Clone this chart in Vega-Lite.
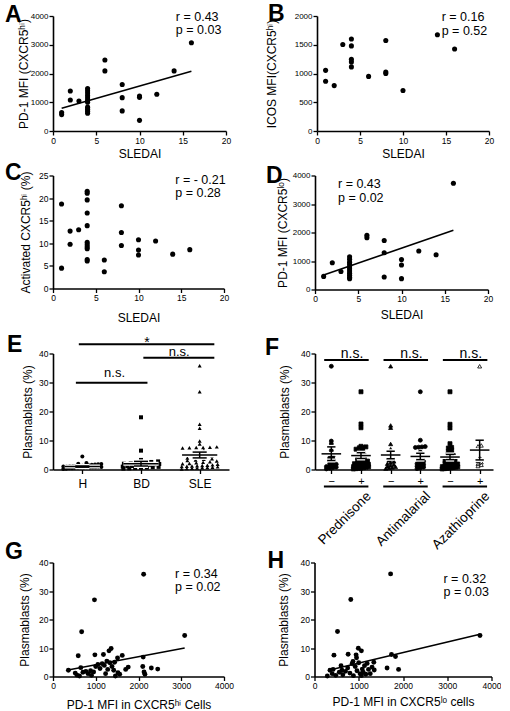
{
  "$schema": "https://vega.github.io/schema/vega-lite/v6.json",
  "background": "white",
  "padding": {"left": 5, "top": 3, "right": 0, "bottom": 0},
  "config": {
    "view": {"stroke": null},
    "font": "Liberation Sans",
    "axis": {"grid": false, "domainColor": "black", "domainWidth": 1.6, "tickColor": "black", "tickWidth": 1.3, "tickSize": 4, "labelColor": "black", "labelFont": "Liberation Sans", "labelFontSize": 8.5, "labelPadding": 1, "labelFlush": false, "labelOverlap": false, "labelBound": false, "titleColor": "black", "titleFont": "Liberation Sans", "titleFontSize": 12, "titleFontWeight": "normal"},
    "title": {"font": "Liberation Sans", "fontSize": 23, "fontWeight": "bold", "color": "black", "anchor": "start", "frame": "group", "baseline": "alphabetic"},
    "text": {"font": "Liberation Sans", "color": "black"}
  },
  "datasets": {
    "a_pts": [{"sledai":1,"mfi":640},{"sledai":1,"mfi":570},{"sledai":2,"mfi":1390},{"sledai":2,"mfi":1080},{"sledai":3,"mfi":1040},{"sledai":4,"mfi":1480},{"sledai":4,"mfi":1400},{"sledai":4,"mfi":1320},{"sledai":4,"mfi":1230},{"sledai":4,"mfi":1150},{"sledai":4,"mfi":1070},{"sledai":4,"mfi":1000},{"sledai":4,"mfi":830},{"sledai":4,"mfi":760},{"sledai":4,"mfi":690},{"sledai":4,"mfi":620},{"sledai":6,"mfi":2470},{"sledai":6,"mfi":2090},{"sledai":8,"mfi":1620},{"sledai":8,"mfi":1160},{"sledai":8,"mfi":700},{"sledai":10,"mfi":1220},{"sledai":10,"mfi":1170},{"sledai":10,"mfi":370},{"sledai":12,"mfi":1280},{"sledai":14,"mfi":2090},{"sledai":16,"mfi":3070}],
    "a_fit": [{"sledai":1,"mfi":790},{"sledai":16,"mfi":2080}],
    "a_stat": [{"t":"r = 0.43\np = 0.03"}],
    "b_pts": [{"sledai":1,"icos":1055},{"sledai":1,"icos":865},{"sledai":2,"icos":790},{"sledai":3,"icos":1505},{"sledai":4,"icos":1600},{"sledai":4,"icos":1480},{"sledai":4,"icos":1245},{"sledai":4,"icos":1200},{"sledai":4,"icos":1115},{"sledai":6,"icos":950},{"sledai":8,"icos":1575},{"sledai":8,"icos":1025},{"sledai":8,"icos":1000},{"sledai":10,"icos":705},{"sledai":14,"icos":1675},{"sledai":16,"icos":1425}],
    "b_stat": [{"t":"r = 0.16\np = 0.52"}],
    "c_pts": [{"sledai":1,"act":18.7},{"sledai":1,"act":4.5},{"sledai":2,"act":12.7},{"sledai":2,"act":9.8},{"sledai":3,"act":13.0},{"sledai":4,"act":21.5},{"sledai":4,"act":21.1},{"sledai":4,"act":19.6},{"sledai":4,"act":16.7},{"sledai":4,"act":13.9},{"sledai":4,"act":10.2},{"sledai":4,"act":9.7},{"sledai":4,"act":9.2},{"sledai":4,"act":8.8},{"sledai":4,"act":6.4},{"sledai":4,"act":6.1},{"sledai":6,"act":6.3},{"sledai":6,"act":3.7},{"sledai":8,"act":18.3},{"sledai":8,"act":12.4},{"sledai":8,"act":9.5},{"sledai":10,"act":10.8},{"sledai":10,"act":8.5},{"sledai":10,"act":7.4},{"sledai":12,"act":10.5},{"sledai":14,"act":7.6},{"sledai":16,"act":8.6}],
    "c_stat": [{"t":"r = - 0.21\np = 0.28"}],
    "d_pts": [{"sledai":1,"mfi":460},{"sledai":2,"mfi":940},{"sledai":3,"mfi":630},{"sledai":4,"mfi":1150},{"sledai":4,"mfi":1060},{"sledai":4,"mfi":960},{"sledai":4,"mfi":880},{"sledai":4,"mfi":800},{"sledai":4,"mfi":730},{"sledai":4,"mfi":650},{"sledai":4,"mfi":570},{"sledai":4,"mfi":500},{"sledai":4,"mfi":430},{"sledai":4,"mfi":380},{"sledai":6,"mfi":1900},{"sledai":6,"mfi":1820},{"sledai":8,"mfi":1720},{"sledai":8,"mfi":1290},{"sledai":8,"mfi":440},{"sledai":10,"mfi":1050},{"sledai":10,"mfi":860},{"sledai":10,"mfi":380},{"sledai":12,"mfi":1350},{"sledai":14,"mfi":1220},{"sledai":16,"mfi":3730}],
    "d_fit": [{"sledai":1,"mfi":506},{"sledai":16,"mfi":2080}],
    "d_stat": [{"t":"r = 0.43\np = 0.02"}],
    "e_pts": [
      {"g":"H","v":0.2},{"g":"H","v":0.3},{"g":"H","v":0.4},{"g":"H","v":0.4},{"g":"H","v":0.5},{"g":"H","v":0.5},{"g":"H","v":0.6},{"g":"H","v":0.6},{"g":"H","v":0.7},{"g":"H","v":0.7},{"g":"H","v":0.8},{"g":"H","v":0.8},{"g":"H","v":0.9},{"g":"H","v":0.9},{"g":"H","v":1.0},{"g":"H","v":1.0},{"g":"H","v":1.1},{"g":"H","v":1.1},{"g":"H","v":1.2},{"g":"H","v":1.2},{"g":"H","v":1.3},{"g":"H","v":1.4},{"g":"H","v":1.5},{"g":"H","v":1.6},{"g":"H","v":1.7},{"g":"H","v":1.8},{"g":"H","v":1.9},{"g":"H","v":2.0},{"g":"H","v":2.2},{"g":"H","v":4.5},
      {"g":"BD","v":18.0},{"g":"BD","v":6.5},{"g":"BD","v":3.3},{"g":"BD","v":2.8},{"g":"BD","v":2.6},{"g":"BD","v":2.5},{"g":"BD","v":2.3},{"g":"BD","v":2.1},{"g":"BD","v":2.0},{"g":"BD","v":1.9},{"g":"BD","v":1.8},{"g":"BD","v":1.6},{"g":"BD","v":1.5},{"g":"BD","v":1.4},{"g":"BD","v":1.3},{"g":"BD","v":1.2},{"g":"BD","v":1.1},{"g":"BD","v":1.0},{"g":"BD","v":0.9},{"g":"BD","v":0.8},{"g":"BD","v":0.7},{"g":"BD","v":0.6},{"g":"BD","v":0.5},{"g":"BD","v":0.4},{"g":"BD","v":0.3},
      {"g":"SLE","v":35.8},{"g":"SLE","v":26.8},{"g":"SLE","v":15.6},{"g":"SLE","v":14.2},{"g":"SLE","v":9.8},{"g":"SLE","v":8.8},{"g":"SLE","v":7.8},{"g":"SLE","v":7.7},{"g":"SLE","v":7.6},{"g":"SLE","v":7.6},{"g":"SLE","v":7.5},{"g":"SLE","v":7.4},{"g":"SLE","v":6.6},{"g":"SLE","v":6.0},{"g":"SLE","v":5.5},{"g":"SLE","v":5.1},{"g":"SLE","v":4.8},{"g":"SLE","v":4.5},{"g":"SLE","v":4.2},{"g":"SLE","v":4.0},{"g":"SLE","v":3.7},{"g":"SLE","v":3.5},{"g":"SLE","v":3.3},{"g":"SLE","v":3.1},{"g":"SLE","v":2.9},{"g":"SLE","v":2.7},{"g":"SLE","v":2.5},{"g":"SLE","v":2.3},{"g":"SLE","v":2.1},{"g":"SLE","v":2.0},{"g":"SLE","v":1.8},{"g":"SLE","v":1.6},{"g":"SLE","v":1.5},{"g":"SLE","v":1.4},{"g":"SLE","v":1.3},{"g":"SLE","v":1.2},{"g":"SLE","v":1.1},{"g":"SLE","v":1.0},{"g":"SLE","v":0.9},{"g":"SLE","v":0.8},{"g":"SLE","v":0.7},{"g":"SLE","v":0.6},{"g":"SLE","v":0.5},{"g":"SLE","v":0.4},{"g":"SLE","v":0.3},{"g":"SLE","v":0.2}
    ],
    "e_sum": [{"g":"H","mean":1.0,"lo":0.8,"hi":1.2},{"g":"BD","mean":2.0,"lo":1.2,"hi":2.8},{"g":"SLE","mean":5.0,"lo":4.0,"hi":6.0}],
    "f_pts": [
      {"grp":"pred-","v":35.6},{"grp":"pred-","v":9.8},{"grp":"pred-","v":8.8},{"grp":"pred-","v":7.6},{"grp":"pred-","v":6.5},{"grp":"pred-","v":5.5},{"grp":"pred-","v":4.5},{"grp":"pred-","v":4.0},{"grp":"pred-","v":3.5},{"grp":"pred-","v":3.0},{"grp":"pred-","v":2.5},{"grp":"pred-","v":2.0},{"grp":"pred-","v":1.8},{"grp":"pred-","v":1.5},{"grp":"pred-","v":1.2},{"grp":"pred-","v":1.0},{"grp":"pred-","v":0.8},{"grp":"pred-","v":0.6},{"grp":"pred-","v":0.4},{"grp":"pred-","v":0.2},
      {"grp":"pred+","v":26.8},{"grp":"pred+","v":15.7},{"grp":"pred+","v":14.4},{"grp":"pred+","v":8.0},{"grp":"pred+","v":7.8},{"grp":"pred+","v":7.6},{"grp":"pred+","v":7.5},{"grp":"pred+","v":7.0},{"grp":"pred+","v":6.5},{"grp":"pred+","v":6.0},{"grp":"pred+","v":5.5},{"grp":"pred+","v":5.0},{"grp":"pred+","v":4.7},{"grp":"pred+","v":4.4},{"grp":"pred+","v":4.0},{"grp":"pred+","v":3.7},{"grp":"pred+","v":3.4},{"grp":"pred+","v":3.1},{"grp":"pred+","v":2.9},{"grp":"pred+","v":2.6},{"grp":"pred+","v":2.4},{"grp":"pred+","v":2.2},{"grp":"pred+","v":2.0},{"grp":"pred+","v":1.8},{"grp":"pred+","v":1.6},{"grp":"pred+","v":1.4},{"grp":"pred+","v":1.3},{"grp":"pred+","v":1.2},{"grp":"pred+","v":1.0},{"grp":"pred+","v":0.9},{"grp":"pred+","v":0.8},{"grp":"pred+","v":0.6},{"grp":"pred+","v":0.5},{"grp":"pred+","v":0.4},{"grp":"pred+","v":0.3},{"grp":"pred+","v":0.2},
      {"grp":"anti-","v":35.6},{"grp":"anti-","v":15.2},{"grp":"anti-","v":14.4},{"grp":"anti-","v":8.8},{"grp":"anti-","v":7.0},{"grp":"anti-","v":6.3},{"grp":"anti-","v":5.7},{"grp":"anti-","v":5.0},{"grp":"anti-","v":4.5},{"grp":"anti-","v":4.0},{"grp":"anti-","v":3.6},{"grp":"anti-","v":3.2},{"grp":"anti-","v":2.8},{"grp":"anti-","v":2.4},{"grp":"anti-","v":2.0},{"grp":"anti-","v":1.7},{"grp":"anti-","v":1.4},{"grp":"anti-","v":1.1},{"grp":"anti-","v":0.9},{"grp":"anti-","v":0.7},{"grp":"anti-","v":0.5},{"grp":"anti-","v":0.3},
      {"grp":"anti+","v":26.8},{"grp":"anti+","v":10.1},{"grp":"anti+","v":7.9},{"grp":"anti+","v":7.8},{"grp":"anti+","v":7.7},{"grp":"anti+","v":7.6},{"grp":"anti+","v":6.0},{"grp":"anti+","v":5.0},{"grp":"anti+","v":4.4},{"grp":"anti+","v":3.8},{"grp":"anti+","v":3.3},{"grp":"anti+","v":2.8},{"grp":"anti+","v":2.4},{"grp":"anti+","v":2.0},{"grp":"anti+","v":1.7},{"grp":"anti+","v":1.4},{"grp":"anti+","v":1.1},{"grp":"anti+","v":0.8},{"grp":"anti+","v":0.5},{"grp":"anti+","v":0.3},
      {"grp":"aza-","v":26.8},{"grp":"aza-","v":15.6},{"grp":"aza-","v":14.3},{"grp":"aza-","v":8.9},{"grp":"aza-","v":7.6},{"grp":"aza-","v":7.4},{"grp":"aza-","v":6.8},{"grp":"aza-","v":6.2},{"grp":"aza-","v":5.6},{"grp":"aza-","v":5.2},{"grp":"aza-","v":4.8},{"grp":"aza-","v":4.4},{"grp":"aza-","v":4.1},{"grp":"aza-","v":3.8},{"grp":"aza-","v":3.5},{"grp":"aza-","v":3.2},{"grp":"aza-","v":3.0},{"grp":"aza-","v":2.8},{"grp":"aza-","v":2.5},{"grp":"aza-","v":2.3},{"grp":"aza-","v":2.1},{"grp":"aza-","v":1.9},{"grp":"aza-","v":1.7},{"grp":"aza-","v":1.5},{"grp":"aza-","v":1.4},{"grp":"aza-","v":1.2},{"grp":"aza-","v":1.1},{"grp":"aza-","v":1.0},{"grp":"aza-","v":0.9},{"grp":"aza-","v":0.8},{"grp":"aza-","v":0.7},{"grp":"aza-","v":0.6},{"grp":"aza-","v":0.5},{"grp":"aza-","v":0.4},{"grp":"aza-","v":0.3},{"grp":"aza-","v":0.2},
      {"grp":"aza+","v":35.6},{"grp":"aza+","v":8.3},{"grp":"aza+","v":8.0},{"grp":"aza+","v":4.0},{"grp":"aza+","v":3.5},{"grp":"aza+","v":3.0},{"grp":"aza+","v":2.5},{"grp":"aza+","v":2.0},{"grp":"aza+","v":1.6},{"grp":"aza+","v":1.2}
    ],
    "f_sum": [{"grp":"pred-","mean":5.4,"lo":3.1,"hi":7.8},{"grp":"pred+","mean":4.8,"lo":3.8,"hi":5.8},{"grp":"anti-","mean":5.0,"lo":3.7,"hi":6.3},{"grp":"anti+","mean":4.5,"lo":3.4,"hi":5.6},{"grp":"aza-","mean":4.3,"lo":3.4,"hi":5.2},{"grp":"aza+","mean":6.7,"lo":3.3,"hi":10.1}],
    "f_drug": [{"drug":"Prednisone"},{"drug":"Antimalarial"},{"drug":"Azathioprine"}],
    "g_pts": [{"pd1":2120,"pb":35.9},{"pd1":970,"pb":26.9},{"pd1":670,"pb":15.7},{"pd1":3080,"pb":14.4},{"pd1":590,"pb":7.3},{"pd1":980,"pb":7.6},{"pd1":1180,"pb":7.7},{"pd1":1310,"pb":9.0},{"pd1":1360,"pb":9.8},{"pd1":1620,"pb":7.4},{"pd1":1510,"pb":6.5},{"pd1":2110,"pb":6.8},{"pd1":1440,"pb":5.0},{"pd1":1260,"pb":5.4},{"pd1":360,"pb":2.2},{"pd1":520,"pb":1.2},{"pd1":560,"pb":0.5},{"pd1":620,"pb":0.2},{"pd1":650,"pb":3.1},{"pd1":700,"pb":1.5},{"pd1":770,"pb":1.8},{"pd1":820,"pb":1.0},{"pd1":880,"pb":2.0},{"pd1":900,"pb":0.4},{"pd1":950,"pb":1.6},{"pd1":1000,"pb":3.5},{"pd1":1050,"pb":4.2},{"pd1":1100,"pb":2.8},{"pd1":1150,"pb":4.5},{"pd1":1200,"pb":3.9},{"pd1":1230,"pb":1.0},{"pd1":1280,"pb":2.5},{"pd1":1330,"pb":4.8},{"pd1":1380,"pb":3.5},{"pd1":1420,"pb":2.2},{"pd1":1460,"pb":0.2},{"pd1":1520,"pb":1.3},{"pd1":1560,"pb":0.8},{"pd1":1700,"pb":2.5},{"pd1":1760,"pb":3.3},{"pd1":2100,"pb":3.5},{"pd1":2130,"pb":1.6},{"pd1":2150,"pb":0.8},{"pd1":2300,"pb":3.0},{"pd1":2450,"pb":2.6}],
    "g_fit": [{"pd1":350,"pb":2.3},{"pd1":3080,"pb":10.0}],
    "g_stat": [{"t":"r = 0.34\np = 0.02"}],
    "h_pts": [{"pd1":1720,"pb":36.0},{"pd1":820,"pb":27.0},{"pd1":520,"pb":15.8},{"pd1":3740,"pb":14.4},{"pd1":440,"pb":7.5},{"pd1":760,"pb":7.8},{"pd1":940,"pb":7.6},{"pd1":990,"pb":9.9},{"pd1":1060,"pb":9.0},{"pd1":1740,"pb":7.7},{"pd1":1830,"pb":7.0},{"pd1":950,"pb":6.6},{"pd1":870,"pb":5.3},{"pd1":1190,"pb":4.6},{"pd1":290,"pb":0.2},{"pd1":350,"pb":2.2},{"pd1":400,"pb":1.0},{"pd1":420,"pb":2.5},{"pd1":480,"pb":0.4},{"pd1":560,"pb":1.5},{"pd1":600,"pb":3.8},{"pd1":620,"pb":2.2},{"pd1":640,"pb":0.6},{"pd1":700,"pb":1.8},{"pd1":750,"pb":3.0},{"pd1":800,"pb":1.2},{"pd1":850,"pb":4.5},{"pd1":880,"pb":0.3},{"pd1":920,"pb":3.5},{"pd1":960,"pb":2.0},{"pd1":1000,"pb":4.8},{"pd1":1030,"pb":1.0},{"pd1":1060,"pb":0.3},{"pd1":1080,"pb":2.6},{"pd1":1100,"pb":1.5},{"pd1":1130,"pb":3.8},{"pd1":1160,"pb":0.8},{"pd1":1220,"pb":2.5},{"pd1":1260,"pb":1.0},{"pd1":1300,"pb":3.3},{"pd1":1340,"pb":5.0},{"pd1":1350,"pb":2.3},{"pd1":1640,"pb":3.0},{"pd1":1900,"pb":2.5}],
    "h_fit": [{"pd1":320,"pb":2.2},{"pd1":3740,"pb":14.8}],
    "h_stat": [{"t":"r = 0.32\np = 0.03"}]
  },
  "spacing": 2.5,
  "vconcat": [
    {
      "spacing": 34,
      "hconcat": [
        {
          "width": 173, "height": 115,
          "title": {"text": "A", "dx": -48, "offset": -16},
          "encoding": {
            "x": {"field": "sledai", "type": "quantitative", "scale": {"domain": [0, 20], "nice": false}, "axis": {"title": "SLEDAI", "values": [0, 5, 10, 15, 20], "tickCount": 10, "format": "d", "labelOverlap": false, "titlePadding": 3.5}},
            "y": {"field": "mfi", "type": "quantitative", "scale": {"domain": [0, 4000], "nice": false}, "axis": {"title": "PD-1 MFI (CXCR5ʰⁱ)", "values": [0, 1000, 2000, 3000, 4000], "tickCount": 10, "format": "d", "labelOverlap": false, "labelFontSize": 8, "titlePadding": 0}}
          },
          "layer": [
            {"data": {"name": "a_pts"}, "mark": {"type": "circle", "size": 26, "color": "black", "opacity": 1}},
            {"data": {"name": "a_fit"}, "mark": {"type": "line", "color": "black", "strokeWidth": 1.6}},
            {"data": {"name": "a_stat"}, "transform": [{"calculate": "14.2", "as": "sledai"}, {"calculate": "3830", "as": "mfi"}],
             "mark": {"type": "text", "align": "left", "baseline": "alphabetic", "fontSize": 12.5, "lineBreak": "\n", "lineHeight": 13.5},
             "encoding": {"text": {"field": "t"}}}
          ]
        },
        {
          "width": 172, "height": 115,
          "title": {"text": "B", "dx": -49, "offset": -15},
          "encoding": {
            "x": {"field": "sledai", "type": "quantitative", "scale": {"domain": [0, 20], "nice": false}, "axis": {"title": "SLEDAI", "values": [0, 5, 10, 15, 20], "tickCount": 10, "format": "d", "labelOverlap": false, "titlePadding": 3.5}},
            "y": {"field": "icos", "type": "quantitative", "scale": {"domain": [0, 2000], "nice": false}, "axis": {"title": "ICOS MFI(CXCR5ʰⁱ)", "values": [0, 500, 1000, 1500, 2000], "tickCount": 10, "format": "d", "labelOverlap": false, "labelFontSize": 8, "titlePadding": 16}}
          },
          "layer": [
            {"data": {"name": "b_pts"}, "mark": {"type": "circle", "size": 26, "color": "black", "opacity": 1}},
            {"data": {"name": "b_stat"}, "transform": [{"calculate": "14.5", "as": "sledai"}, {"calculate": "1913", "as": "icos"}],
             "mark": {"type": "text", "align": "left", "baseline": "alphabetic", "fontSize": 12.5, "lineBreak": "\n", "lineHeight": 13.5},
             "encoding": {"text": {"field": "t"}}}
          ]
        }
      ]
    },
    {
      "spacing": 10,
      "vconcat": [
        {
          "spacing": 37,
          "hconcat": [
            {
              "width": 171, "height": 113,
              "title": {"text": "C", "dx": -48, "offset": -13.6},
              "encoding": {
                "x": {"field": "sledai", "type": "quantitative", "scale": {"domain": [0, 20], "nice": false}, "axis": {"title": "SLEDAI", "values": [0, 5, 10, 15, 20], "tickCount": 10, "format": "d", "labelOverlap": false, "titlePadding": 10.5}},
                "y": {"field": "act", "type": "quantitative", "scale": {"domain": [0, 25], "nice": false}, "axis": {"title": "Activated CXCR5ʰⁱ (%)", "values": [0, 5, 10, 15, 20, 25], "tickCount": 10, "format": "d", "labelOverlap": false, "titlePadding": 6.5}}
              },
              "layer": [
                {"data": {"name": "c_pts"}, "mark": {"type": "circle", "size": 26, "color": "black", "opacity": 1}},
                {"data": {"name": "c_stat"}, "transform": [{"calculate": "14.3", "as": "sledai"}, {"calculate": "23.2", "as": "act"}],
                 "mark": {"type": "text", "align": "left", "baseline": "alphabetic", "fontSize": 12.5, "lineBreak": "\n", "lineHeight": 13.5},
                 "encoding": {"text": {"field": "t"}}}
              ]
            },
            {
              "width": 173, "height": 114,
              "title": {"text": "D", "dx": -49, "offset": -16},
              "encoding": {
                "x": {"field": "sledai", "type": "quantitative", "scale": {"domain": [0, 20], "nice": false}, "axis": {"title": "SLEDAI", "values": [0, 5, 10, 15, 20], "tickCount": 10, "format": "d", "labelOverlap": false, "titlePadding": 6.5}},
                "y": {"field": "mfi", "type": "quantitative", "scale": {"domain": [0, 4000], "nice": false}, "axis": {"title": "PD-1 MFI (CXCR5ˡᵒ)", "values": [0, 1000, 2000, 3000, 4000], "tickCount": 10, "format": "d", "labelOverlap": false, "labelFontSize": 8, "titlePadding": 3}}
              },
              "layer": [
                {"data": {"name": "d_pts"}, "mark": {"type": "circle", "size": 26, "color": "black", "opacity": 1}},
                {"data": {"name": "d_fit"}, "mark": {"type": "line", "color": "black", "strokeWidth": 1.6}},
                {"data": {"name": "d_stat"}, "transform": [{"calculate": "2.66", "as": "sledai"}, {"calculate": "3552", "as": "mfi"}],
                 "mark": {"type": "text", "align": "left", "baseline": "alphabetic", "fontSize": 12.5, "lineBreak": "\n", "lineHeight": 13.5},
                 "encoding": {"text": {"field": "t"}}}
              ]
            }
          ]
        },
        {
          "spacing": -12,
          "vconcat": [
            {
              "spacing": 36,
              "hconcat": [
                {
                  "width": 176, "height": 116,
                  "title": {"text": "E", "dx": -46, "offset": -21},
                  "encoding": {
                    "x": {"field": "xpos", "type": "quantitative", "scale": {"domain": [0.5, 3.5], "nice": false, "zero": false}, "axis": {"title": null, "values": [1, 2, 3], "tickCount": 10, "labelOverlap": false, "labelExpr": "datum.value == 1 ? 'H' : datum.value == 2 ? 'BD' : 'SLE'", "labelFontSize": 12, "labelPadding": 5}},
                    "y": {"field": "v", "type": "quantitative", "scale": {"domain": [0, 40], "nice": false}, "axis": {"title": "Plasmablasts (%)", "values": [0, 10, 20, 30, 40], "tickCount": 10, "format": "d", "labelOverlap": false, "titlePadding": 4.5}}
                  },
                  "layer": [
                    {"data": {"name": "e_pts"},
                     "transform": [
                       {"calculate": "indexof(['H','BD','SLE'], datum.g) + 1", "as": "pos"},
                       {"calculate": "floor(datum.v)", "as": "bin"},
                       {"window": [{"op": "row_number", "as": "rk"}, {"op": "count", "as": "n"}], "groupby": ["g", "bin"], "sort": [{"field": "v", "order": "ascending"}], "frame": [null, null]},
                       {"calculate": "datum.pos + (datum.rk - (datum.n + 1) / 2) * min(0.14, 0.7 / datum.n)", "as": "xpos"}
                     ],
                     "mark": {"type": "point", "filled": true, "size": 16, "color": "black", "opacity": 1},
                     "encoding": {"shape": {"field": "g", "type": "nominal", "scale": {"domain": ["H", "BD", "SLE"], "range": ["circle", "square", "triangle-up"]}, "legend": null}}},
                    {"data": {"name": "e_sum"},
                     "transform": [
                       {"calculate": "indexof(['H','BD','SLE'], datum.g) + 1", "as": "pos"},
                       {"fold": ["mean", "lo", "hi"], "as": ["stat", "val"]},
                       {"calculate": "datum.pos - (datum.stat == 'mean' ? 0.3 : 0.12)", "as": "xpos"},
                       {"calculate": "datum.pos + (datum.stat == 'mean' ? 0.3 : 0.12)", "as": "xpos2"},
                       {"calculate": "datum.val", "as": "v"}
                     ],
                     "mark": {"type": "rule", "color": "white", "strokeWidth": 4},
                     "encoding": {"x2": {"field": "xpos2"}}},
                    {"data": {"name": "e_sum"},
                     "transform": [
                       {"calculate": "indexof(['H','BD','SLE'], datum.g) + 1", "as": "xpos"},
                       {"calculate": "datum.lo", "as": "v"},
                       {"calculate": "datum.hi", "as": "v2"}
                     ],
                     "mark": {"type": "rule", "color": "black", "strokeWidth": 1.5},
                     "encoding": {"y2": {"field": "v2"}}},
                    {"data": {"name": "e_sum"},
                     "transform": [
                       {"calculate": "indexof(['H','BD','SLE'], datum.g) + 1", "as": "pos"},
                       {"fold": ["mean", "lo", "hi"], "as": ["stat", "val"]},
                       {"calculate": "datum.pos - (datum.stat == 'mean' ? 0.3 : 0.12)", "as": "xpos"},
                       {"calculate": "datum.pos + (datum.stat == 'mean' ? 0.3 : 0.12)", "as": "xpos2"},
                       {"calculate": "datum.val", "as": "v"}
                     ],
                     "mark": {"type": "rule", "color": "black", "strokeWidth": 1.5},
                     "encoding": {"x2": {"field": "xpos2"}}},
                    {"data": {"values": [{"label": "*"}]},
                     "transform": [{"calculate": "0.94", "as": "xpos"}, {"calculate": "3.25", "as": "xpos2"}, {"calculate": "43.2", "as": "v"}],
                     "mark": {"type": "rule", "color": "black", "strokeWidth": 2}, "encoding": {"x2": {"field": "xpos2"}}},
                    {"data": {"values": [{"label": "n.s."}]},
                     "transform": [{"calculate": "2.04", "as": "xpos"}, {"calculate": "3.25", "as": "xpos2"}, {"calculate": "38.5", "as": "v"}],
                     "mark": {"type": "rule", "color": "black", "strokeWidth": 2}, "encoding": {"x2": {"field": "xpos2"}}},
                    {"data": {"values": [{"label": "n.s."}]},
                     "transform": [{"calculate": "0.89", "as": "xpos"}, {"calculate": "2.11", "as": "xpos2"}, {"calculate": "29.9", "as": "v"}],
                     "mark": {"type": "rule", "color": "black", "strokeWidth": 2}, "encoding": {"x2": {"field": "xpos2"}}},
                    {"data": {"values": [{"label": "*"}]},
                     "transform": [{"calculate": "2.1", "as": "xpos"}, {"calculate": "42.3", "as": "v"}],
                     "mark": {"type": "text", "fontSize": 14, "align": "center", "baseline": "alphabetic"}, "encoding": {"text": {"field": "label"}}},
                    {"data": {"values": [{"label": "n.s."}]},
                     "transform": [{"calculate": "2.65", "as": "xpos"}, {"calculate": "39.2", "as": "v"}],
                     "mark": {"type": "text", "fontSize": 13, "align": "center", "baseline": "alphabetic"}, "encoding": {"text": {"field": "label"}}},
                    {"data": {"values": [{"label": "n.s."}]},
                     "transform": [{"calculate": "1.55", "as": "xpos"}, {"calculate": "31.8", "as": "v"}],
                     "mark": {"type": "text", "fontSize": 13, "align": "center", "baseline": "alphabetic"}, "encoding": {"text": {"field": "label"}}}
                  ]
                },
                {
                  "width": 178, "height": 116,
                  "title": {"text": "F", "dx": -50, "offset": -13},
                  "encoding": {
                    "x": {"field": "xpos", "type": "quantitative", "scale": {"domain": [0.45, 6.45], "nice": false, "zero": false}, "axis": {"title": null, "values": [1, 2, 3, 4, 5, 6], "tickCount": 10, "labelOverlap": false, "labelExpr": "datum.value % 2 == 1 ? '−' : '+'", "labelFontSize": 11, "labelPadding": 2}},
                    "y": {"field": "v", "type": "quantitative", "scale": {"domain": [0, 40], "nice": false}, "axis": {"title": "Plasmablasts (%)", "values": [0, 10, 20, 30, 40], "tickCount": 10, "format": "d", "labelOverlap": false, "titlePadding": 9.5}}
                  },
                  "layer": [
                    {"data": {"name": "f_pts"},
                     "transform": [
                       {"calculate": "indexof(['pred-','pred+','anti-','anti+','aza-','aza+'], datum.grp) + 1", "as": "pos"},
                       {"calculate": "floor(datum.v)", "as": "bin"},
                       {"window": [{"op": "row_number", "as": "rk"}, {"op": "count", "as": "n"}], "groupby": ["grp", "bin"], "sort": [{"field": "v", "order": "ascending"}], "frame": [null, null]},
                       {"calculate": "datum.pos + (datum.rk - (datum.n + 1) / 2) * min(0.11, 0.6 / datum.n)", "as": "xpos"}
                     ],
                     "mark": {"type": "point", "filled": true, "size": 16, "stroke": "black", "strokeWidth": 0.8, "opacity": 1},
                     "encoding": {
                       "shape": {"field": "grp", "type": "nominal", "scale": {"domain": ["pred-", "pred+", "anti-", "anti+", "aza-", "aza+"], "range": ["circle", "square", "triangle-up", "triangle-down", "diamond", "circle"]}, "legend": null},
                       "fill": {"field": "grp", "type": "nominal", "scale": {"domain": ["pred-", "pred+", "anti-", "anti+", "aza-", "aza+"], "range": ["black", "black", "black", "black", "black", "white"]}, "legend": null}
                     }},
                    {"data": {"name": "f_sum"},
                     "transform": [
                       {"calculate": "indexof(['pred-','pred+','anti-','anti+','aza-','aza+'], datum.grp) + 1", "as": "pos"},
                       {"fold": ["mean", "lo", "hi"], "as": ["stat", "val"]},
                       {"calculate": "datum.pos - (datum.stat == 'mean' ? 0.33 : 0.14)", "as": "xpos"},
                       {"calculate": "datum.pos + (datum.stat == 'mean' ? 0.33 : 0.14)", "as": "xpos2"},
                       {"calculate": "datum.val", "as": "v"}
                     ],
                     "mark": {"type": "rule", "color": "white", "strokeWidth": 4},
                     "encoding": {"x2": {"field": "xpos2"}}},
                    {"data": {"name": "f_sum"},
                     "transform": [
                       {"calculate": "indexof(['pred-','pred+','anti-','anti+','aza-','aza+'], datum.grp) + 1", "as": "xpos"},
                       {"calculate": "datum.lo", "as": "v"},
                       {"calculate": "datum.hi", "as": "v2"}
                     ],
                     "mark": {"type": "rule", "color": "black", "strokeWidth": 1.5},
                     "encoding": {"y2": {"field": "v2"}}},
                    {"data": {"name": "f_sum"},
                     "transform": [
                       {"calculate": "indexof(['pred-','pred+','anti-','anti+','aza-','aza+'], datum.grp) + 1", "as": "pos"},
                       {"fold": ["mean", "lo", "hi"], "as": ["stat", "val"]},
                       {"calculate": "datum.pos - (datum.stat == 'mean' ? 0.33 : 0.14)", "as": "xpos"},
                       {"calculate": "datum.pos + (datum.stat == 'mean' ? 0.33 : 0.14)", "as": "xpos2"},
                       {"calculate": "datum.val", "as": "v"}
                     ],
                     "mark": {"type": "rule", "color": "black", "strokeWidth": 1.5},
                     "encoding": {"x2": {"field": "xpos2"}}},
                    {"data": {"name": "f_drug"},
                     "transform": [
                       {"calculate": "1.5 + 2 * indexof(['Prednisone','Antimalarial','Azathioprine'], datum.drug)", "as": "c"},
                       {"calculate": "datum.c - 0.74", "as": "xpos"},
                       {"calculate": "datum.c + 0.76", "as": "xpos2"},
                       {"calculate": "37.8", "as": "v"}
                     ],
                     "mark": {"type": "rule", "color": "black", "strokeWidth": 2},
                     "encoding": {"x2": {"field": "xpos2"}}},
                    {"data": {"name": "f_drug"},
                     "transform": [
                       {"calculate": "1.5 + 2 * indexof(['Prednisone','Antimalarial','Azathioprine'], datum.drug)", "as": "c"},
                       {"calculate": "datum.c + 0.2", "as": "xpos"},
                       {"calculate": "38.6", "as": "v"}
                     ],
                     "mark": {"type": "text", "fontSize": 14, "align": "center", "baseline": "alphabetic"},
                     "encoding": {"text": {"value": "n.s."}}},
                    {"data": {"name": "f_drug"},
                     "transform": [
                       {"calculate": "1.5 + 2 * indexof(['Prednisone','Antimalarial','Azathioprine'], datum.drug)", "as": "c"},
                       {"calculate": "datum.c - 0.75", "as": "xpos"},
                       {"calculate": "datum.c + 0.75", "as": "xpos2"},
                       {"calculate": "-5.84", "as": "v"}
                     ],
                     "mark": {"type": "rule", "color": "black", "strokeWidth": 2},
                     "encoding": {"x2": {"field": "xpos2"}}},
                    {"data": {"name": "f_drug"},
                     "transform": [
                       {"calculate": "1.5 + 2 * indexof(['Prednisone','Antimalarial','Azathioprine'], datum.drug)", "as": "c"},
                       {"calculate": "datum.c + 0.6", "as": "xpos"},
                       {"calculate": "-6.8", "as": "v"}
                     ],
                     "mark": {"type": "text", "fontSize": 13.5, "align": "right", "baseline": "top", "angle": 315},
                     "encoding": {"text": {"field": "drug"}}}
                  ]
                }
              ]
            },
            {
              "spacing": 33.5,
              "hconcat": [
                {
                  "width": 171, "height": 114,
                  "title": {"text": "G", "dx": -48, "offset": -5.3},
                  "encoding": {
                    "x": {"field": "pd1", "type": "quantitative", "scale": {"domain": [0, 4000], "nice": false}, "axis": {"title": "PD-1 MFI in CXCR5ʰⁱ Cells", "values": [0, 1000, 2000, 3000, 4000], "tickCount": 10, "format": "d", "labelOverlap": false, "titlePadding": 9.5}},
                    "y": {"field": "pb", "type": "quantitative", "scale": {"domain": [0, 40], "nice": false}, "axis": {"title": "Plasmablasts (%)", "values": [0, 10, 20, 30, 40], "tickCount": 10, "format": "d", "labelOverlap": false, "titlePadding": 7.5}}
                  },
                  "layer": [
                    {"data": {"name": "g_pts"}, "mark": {"type": "circle", "size": 24, "color": "black", "opacity": 1}},
                    {"data": {"name": "g_fit"}, "mark": {"type": "line", "color": "black", "strokeWidth": 1.6}},
                    {"data": {"name": "g_stat"}, "transform": [{"calculate": "2854", "as": "pd1"}, {"calculate": "34.7", "as": "pb"}],
                     "mark": {"type": "text", "align": "left", "baseline": "alphabetic", "fontSize": 12.5, "lineBreak": "\n", "lineHeight": 13.5},
                     "encoding": {"text": {"field": "t"}}}
                  ]
                },
                {
                  "width": 177, "height": 114,
                  "title": {"text": "H", "dx": -47, "offset": -14.7},
                  "encoding": {
                    "x": {"field": "pd1", "type": "quantitative", "scale": {"domain": [0, 4000], "nice": false}, "axis": {"title": "PD-1 MFI in CXCR5ˡᵒ cells", "values": [0, 1000, 2000, 3000, 4000], "tickCount": 10, "format": "d", "labelOverlap": false, "titlePadding": 6.5}},
                    "y": {"field": "pb", "type": "quantitative", "scale": {"domain": [0, 40], "nice": false}, "axis": {"title": "Plasmablasts (%)", "values": [0, 10, 20, 30, 40], "tickCount": 10, "format": "d", "labelOverlap": false, "titlePadding": 9.5}}
                  },
                  "layer": [
                    {"data": {"name": "h_pts"}, "mark": {"type": "circle", "size": 24, "color": "black", "opacity": 1}},
                    {"data": {"name": "h_fit"}, "mark": {"type": "line", "color": "black", "strokeWidth": 1.6}},
                    {"data": {"name": "h_stat"}, "transform": [{"calculate": "2915", "as": "pd1"}, {"calculate": "32.9", "as": "pb"}],
                     "mark": {"type": "text", "align": "left", "baseline": "alphabetic", "fontSize": 12.5, "lineBreak": "\n", "lineHeight": 13.5},
                     "encoding": {"text": {"field": "t"}}}
                  ]
                }
              ]
            }
          ]
        }
      ]
    }
  ]
}
